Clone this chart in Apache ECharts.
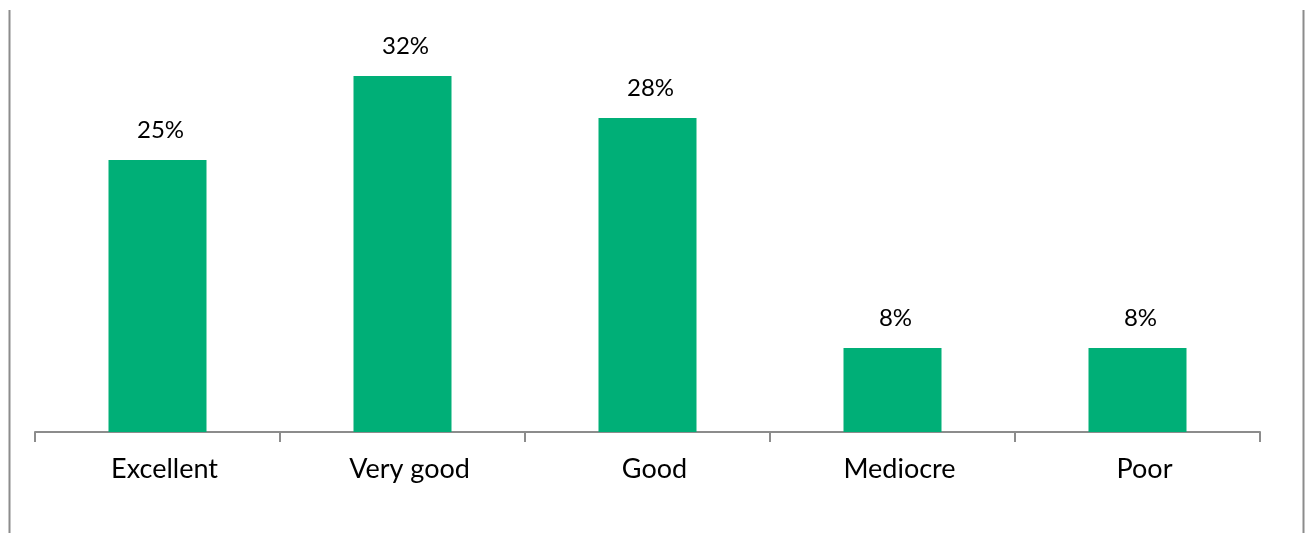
<!DOCTYPE html>
<html>
<head>
<meta charset="utf-8">
<script src="https://cdn.jsdelivr.net/npm/echarts@6/dist/echarts.min.js"></script>
<style>
html, body { margin: 0; padding: 0; background: #fff; }
#chart { width: 1306px; height: 533px; }
</style>
</head>
<body>
<div id="chart"></div>
<script>
var categories = ['Excellent', 'Very good', 'Good', 'Mediocre', 'Poor'];
var shares = [24.6, 32.2, 28.4, 7.6, 7.6];

var chart = echarts.init(document.getElementById('chart'));

var option = {
    animation: false,
    textStyle: { fontFamily: 'Lato' },
    grid: {
        left: 35,
        right: 46,
        top: 45,
        bottom: 101
    },
    xAxis: {
        type: 'category',
        data: categories,
        axisLine: { lineStyle: { color: '#8c8c8c', width: 2 } },
        axisTick: { show: true, length: 10, lineStyle: { color: '#8c8c8c', width: 2 } },
        axisLabel: { color: '#000', fontSize: 27, margin: 24, padding: [0, 0, 0, 14] }
    },
    yAxis: {
        type: 'value',
        min: 0,
        max: 35,
        show: false
    },
    series: [
        {
            type: 'bar',
            data: shares,
            barWidth: '40%',
            itemStyle: { color: '#00af77' },
            label: {
                show: true,
                position: 'top',
                distance: 18,
                offset: [3, 0],
                color: '#000',
                fontSize: 24,
                formatter: function (p) { return Math.round(p.value) + '%'; }
            }
        }
    ],
    graphic: [
        {
            type: 'line',
            shape: { x1: 9.5, y1: 10, x2: 9.5, y2: 533 },
            style: { stroke: '#8c8c8c', lineWidth: 2 }
        },
        {
            type: 'line',
            shape: { x1: 1303.5, y1: 10, x2: 1303.5, y2: 533 },
            style: { stroke: '#8c8c8c', lineWidth: 2 }
        }
    ]
};

chart.setOption(option);
</script>
</body>
</html>
